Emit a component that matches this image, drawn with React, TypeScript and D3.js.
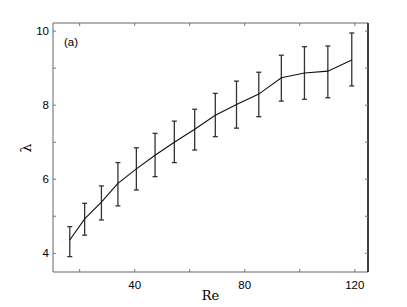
import React, { useEffect, useRef } from 'react';
import * as d3 from 'd3';

// Reynolds number of each sample
const reValues = [16.4, 21.8, 27.9, 33.9, 40.6, 47.4, 54.4, 61.8, 69.3, 77.0, 85.1, 93.3, 101.7, 110.2, 118.9];
// mean lambda
const lambdaMean = [4.36, 4.93, 5.38, 5.89, 6.28, 6.65, 7.0, 7.35, 7.73, 8.02, 8.3, 8.74, 8.87, 8.92, 9.22];
// error bar ends
const lambdaHigh = [4.72, 5.35, 5.82, 6.45, 6.85, 7.24, 7.57, 7.89, 8.32, 8.65, 8.89, 9.35, 9.58, 9.6, 9.95];
const lambdaLow = [3.91, 4.49, 4.9, 5.28, 5.71, 6.07, 6.45, 6.79, 7.15, 7.38, 7.69, 8.11, 8.16, 8.2, 8.52];

const xMajor = [40, 80, 120];
const xMinor = [20, 40, 60, 80, 100, 120];
const yMajor = [4, 6, 8, 10];
const yMinor = [4, 5, 6, 7, 8, 9, 10];

const W = 407;
const H = 307;
const margin = { left: 53, top: 23, right: 39, bottom: 35 };

const App: React.FC = () => {
  const svgRef = useRef<SVGSVGElement>(null);

  useEffect(() => {
    if (!svgRef.current) return;
    const svg = d3.select(svgRef.current);
    svg.selectAll('*').remove();

    const x0 = margin.left, x1 = W - margin.right;
    const y0 = margin.top, y1 = H - margin.bottom;

    const x = d3.scaleLinear().domain([10.3, 124.8]).range([x0, x1]);
    const y = d3.scaleLinear().domain([3.495, 10.22]).range([y1, y0]);

    const g = svg.append('g');

    // frame
    g.append('line').attr('x1', x0).attr('x2', x1).attr('y1', y0).attr('y2', y0).attr('stroke', '#666').attr('stroke-width', 1);
    g.append('line').attr('x1', x0).attr('x2', x1).attr('y1', y1).attr('y2', y1).attr('stroke', '#666').attr('stroke-width', 1);
    g.append('line').attr('x1', x0).attr('x2', x0).attr('y1', y0).attr('y2', y1).attr('stroke', '#666').attr('stroke-width', 1);
    g.append('line').attr('x1', x1).attr('x2', x1).attr('y1', y0).attr('y2', y1).attr('stroke', '#000').attr('stroke-width', 1.5);

    // ticks, inward on all four sides
    xMinor.forEach(v => {
      g.append('line').attr('x1', x(v)).attr('x2', x(v)).attr('y1', y1).attr('y2', y1 - 3).attr('stroke', '#777');
      g.append('line').attr('x1', x(v)).attr('x2', x(v)).attr('y1', y0).attr('y2', y0 + 3).attr('stroke', '#777');
    });
    yMinor.forEach(v => {
      g.append('line').attr('x1', x0).attr('x2', x0 + 3).attr('y1', y(v)).attr('y2', y(v)).attr('stroke', '#777');
      g.append('line').attr('x1', x1).attr('x2', x1 - 3).attr('y1', y(v)).attr('y2', y(v)).attr('stroke', '#777');
    });

    const labelFont = 'Liberation Sans, Arial, sans-serif';
    xMajor.forEach(v => {
      g.append('text').attr('x', x(v)).attr('y', y1 + 17)
        .attr('text-anchor', 'middle').attr('font-family', labelFont).attr('font-size', 11.5)
        .text(String(v));
    });
    yMajor.forEach(v => {
      g.append('text').attr('x', x0 - 4).attr('y', y(v)).attr('dy', '0.36em')
        .attr('text-anchor', 'end').attr('font-family', labelFont).attr('font-size', 11.5)
        .text(String(v));
    });

    // error bars
    const cap = 2.5;
    reValues.forEach((re, i) => {
      const cx = x(re);
      const bar = g.append('g').attr('stroke', '#333').attr('stroke-width', 1.3);
      bar.append('line').attr('x1', cx).attr('x2', cx).attr('y1', y(lambdaLow[i])).attr('y2', y(lambdaHigh[i]));
      bar.append('line').attr('x1', cx - cap).attr('x2', cx + cap).attr('y1', y(lambdaLow[i])).attr('y2', y(lambdaLow[i]));
      bar.append('line').attr('x1', cx - cap).attr('x2', cx + cap).attr('y1', y(lambdaHigh[i])).attr('y2', y(lambdaHigh[i]));
    });

    // mean line
    const line = d3.line<number>().x((_, i) => x(reValues[i])).y(d => y(d));
    g.append('path').datum(lambdaMean).attr('d', line).attr('fill', 'none')
      .attr('stroke', '#111').attr('stroke-width', 1.1);

    // panel label
    g.append('text').attr('x', 64).attr('y', 46).attr('font-family', labelFont).attr('font-size', 11.5).text('(a)');

    // axis titles
    g.append('text').attr('x', (x0 + x1) / 2).attr('y', 300).attr('text-anchor', 'middle')
      .attr('font-family', 'DejaVu Serif, Liberation Serif, serif').attr('font-size', 13).text('Re');
    g.append('text').attr('transform', `translate(31, 148) rotate(-90)`).attr('text-anchor', 'middle')
      .attr('font-family', 'DejaVu Serif, Liberation Serif, serif').attr('font-size', 14).text('λ');
  }, []);

  return (
    <svg ref={svgRef} width={W} height={H}
      style={{ position: 'absolute', left: 0, top: 0, background: '#fff' }} />
  );
};

export default App;
